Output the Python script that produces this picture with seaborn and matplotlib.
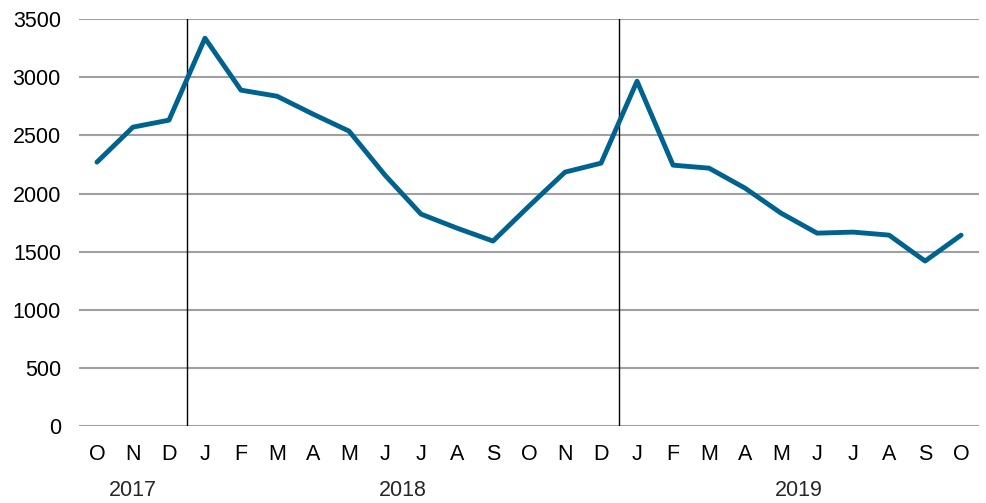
import numpy as np
import pandas as pd
import matplotlib
matplotlib.use("Agg")
import matplotlib.pyplot as plt
import matplotlib.transforms as mtransforms
import seaborn as sns

# monthly values, Oct 2017 -> Oct 2019
months = ["O", "N", "D",
          "J", "F", "M", "A", "M", "J", "J", "A", "S", "O", "N", "D",
          "J", "F", "M", "A", "M", "J", "J", "A", "S", "O"]
values = [2270, 2571, 2631,
          3336, 2889, 2837, 2683, 2537, 2158, 1823, 1702, 1591, 1892, 2184, 2261,
          2966, 2244, 2218, 2046, 1831, 1659, 1668, 1642, 1419, 1642]
years = ["2017", "2018", "2019"]
year_pos = [1, 8.5, 19.5]
year_breaks = [2.5, 14.5]
yticks = [0, 500, 1000, 1500, 2000, 2500, 3000, 3500]

df = pd.DataFrame({"idx": np.arange(len(values)), "value": values})

sns.set_style("white")
plt.rcParams["font.family"] = ["Liberation Sans", "DejaVu Sans"]

fig = plt.figure(figsize=(9.87, 5.03), dpi=100)
ax = fig.add_axes([0.080, 0.153, 0.912, 0.809])

for t in yticks:
    ax.axhline(t, color="#a0a0a0", lw=1.5, zorder=1)

sns.lineplot(data=df, x="idx", y="value", color="#00628f", lw=3.5, ax=ax, zorder=3)

for b in year_breaks:
    ax.axvline(b, color="black", lw=1, zorder=2)

ax.set_xlim(-0.5, len(values) - 0.5)
ax.set_ylim(0, 3500)
ax.set_xticks(range(len(months)))
ax.set_xticklabels(months)
ax.set_yticks(yticks)
ax.tick_params(axis="both", length=0, labelsize=15.5, colors="black")
ax.tick_params(axis="y", pad=13)
ax.tick_params(axis="x", pad=13)
ax.set_xlabel("")
ax.set_ylabel("")
for s in ax.spines.values():
    s.set_visible(False)

trans = mtransforms.blended_transform_factory(ax.transData, fig.transFigure)
for y, p in zip(years, year_pos):
    ax.text(p, 1 - 491 / 503, y, transform=trans, ha="center", va="center", fontsize=15.5)

fig.savefig("out.png", dpi=100)
